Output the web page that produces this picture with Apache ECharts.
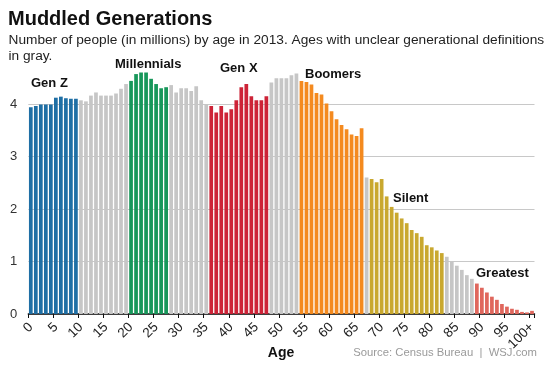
<!DOCTYPE html>
<html>
<head>
<meta charset="utf-8">
<script src="https://cdn.jsdelivr.net/npm/echarts@6/dist/echarts.min.js"></script>
<style>
  html, body { margin: 0; padding: 0; background: #fff; }
  #chart { width: 553px; height: 369px; }
</style>
</head>
<body>
<div id="chart"></div>
<script>
// ---------- DATA ----------
const ageLabels = [];
for (let a = 0; a < 100; a++) ageLabels.push(String(a));
ageLabels.push('100+');

// population in millions, by age 0..99, 100+
const population = [
  3.94, 3.96, 3.99, 3.99, 3.99, 4.12, 4.14, 4.11, 4.10, 4.10,
  4.07, 4.05, 4.16, 4.22, 4.16, 4.16, 4.16, 4.20, 4.29, 4.38,
  4.44, 4.57, 4.60, 4.60, 4.48, 4.38, 4.30, 4.32,
  4.36, 4.22, 4.30, 4.30, 4.25, 4.34, 4.07, 4.00,
  3.96, 3.84, 3.96, 3.84, 3.90, 4.07, 4.32, 4.38, 4.15, 4.07, 4.07, 4.15,
  4.41, 4.49, 4.49, 4.49, 4.55, 4.58,
  4.44, 4.42, 4.37, 4.21, 4.18, 4.01, 3.86, 3.71, 3.60, 3.52, 3.42, 3.39, 3.54,
  2.60,
  2.57, 2.51, 2.57, 2.24, 2.04, 1.93, 1.82, 1.73, 1.60, 1.54, 1.47, 1.31, 1.27, 1.21, 1.16,
  1.09, 1.00, 0.92, 0.84, 0.74, 0.67,
  0.58, 0.50, 0.41, 0.33, 0.27, 0.19, 0.14, 0.10, 0.08, 0.04, 0.03, 0.06
];

// generations (age index ranges, inclusive); other ages are "unclear" (gray)
const genNames    = ['Gen Z', 'Millennials', 'Gen X', 'Boomers', 'Silent', 'Greatest'];
const genStartIdx = [0, 20, 36, 54, 68, 89];
const genEndIdx   = [9, 27, 47, 66, 82, 100];

const yTicks = [0, 1, 2, 3, 4];

// ---------- STYLE ----------
const FONT = '"Liberation Sans", Arial, Helvetica, sans-serif';
const genColors = ['#1f6fa5', '#17975a', '#cd2337', '#f48a1f', '#c9a82f', '#e0675d'];
const grayColor = '#c6c6c6';
const genLabelPos = [[31, 83], [115, 64], [220, 68.7], [305, 74.3], [393, 198], [476, 273]];

function colorFor(i) {
  for (let g = 0; g < genNames.length; g++) {
    if (i >= genStartIdx[g] && i <= genEndIdx[g]) return genColors[g];
  }
  return grayColor;
}

const barData = population.map((v, i) => ({ value: v, itemStyle: { color: colorFor(i) } }));

const graphics = [
  { type: 'text', style: { x: 8, y: 19.5, text: 'Muddled Generations', font: 'bold 20px ' + FONT, fill: '#111', verticalAlign: 'middle' } },
  { type: 'text', style: { x: 8.5, y: 40, text: 'Number of people (in millions) by age in 2013. Ages with unclear generational definitions', font: '13.7px ' + FONT, fill: '#222', verticalAlign: 'middle' } },
  { type: 'text', style: { x: 8.5, y: 56.5, text: 'in gray.', font: '13.7px ' + FONT, fill: '#222', verticalAlign: 'middle' } },
  { type: 'text', style: { x: 537, y: 353, text: 'Source: Census Bureau  |  WSJ.com', font: '11.3px ' + FONT, fill: '#9a9a9a', align: 'right', verticalAlign: 'middle' } },
  { type: 'text', style: { x: 281, y: 353, text: 'Age', font: 'bold 14px ' + FONT, fill: '#111', align: 'center', verticalAlign: 'middle' } }
];
genNames.forEach((n, g) => {
  graphics.push({ type: 'text', style: { x: genLabelPos[g][0], y: genLabelPos[g][1], text: n, font: 'bold 13px ' + FONT, fill: '#111', verticalAlign: 'middle' } });
});

const chart = echarts.init(document.getElementById('chart'), null, { renderer: 'canvas' });
chart.setOption({
  animation: false,
  backgroundColor: '#fff',
  textStyle: { fontFamily: FONT },
  grid: { left: 28.3, right: 18.5, top: 62, bottom: 55, containLabel: false, outerBoundsMode: 'none' },
  xAxis: {
    type: 'category',
    data: ageLabels,
    boundaryGap: true,
    axisLine: { show: true, lineStyle: { color: '#111', width: 1.5 } },
    axisTick: { show: true, interval: 4, length: 4, lineStyle: { color: '#111', width: 1 } },
    axisLabel: { interval: 4, rotate: 45, fontSize: 13.5, color: '#222', margin: 11, fontFamily: FONT },
    splitLine: { show: false }
  },
  yAxis: {
    type: 'value',
    min: yTicks[0],
    max: 4.8,
    interval: 1,
    axisLine: { show: false },
    axisTick: { show: false },
    axisLabel: { fontSize: 13, color: '#333', margin: 11, showMaxLabel: false, fontFamily: FONT },
    splitLine: { show: true, showMaxLine: false, lineStyle: { color: '#c8c8c8', width: 1 } }
  },
  series: [{
    type: 'bar',
    data: barData,
    barCategoryGap: '26%',
    silent: true
  }],
  graphic: graphics
});
</script>
</body>
</html>
